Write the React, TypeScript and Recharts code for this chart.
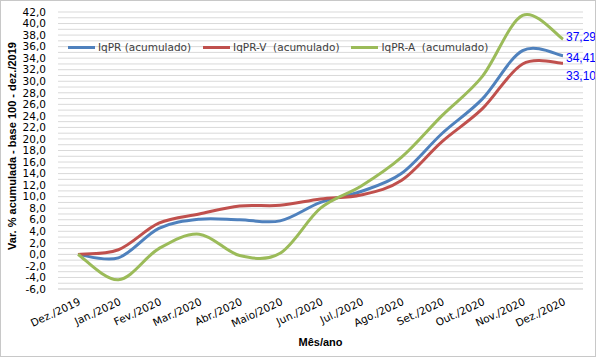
import React from 'react';
import { LineChart, Line, XAxis, YAxis, CartesianGrid } from 'recharts';

const MONTHS = [
  'Dez./2019', 'Jan./2020', 'Fev./2020', 'Mar./2020', 'Abr./2020', 'Maio/2020', 'Jun./2020',
  'Jul./2020', 'Ago./2020', 'Set./2020', 'Out./2020', 'Nov./2020', 'Dez./2020',
];
const IQPR = [0, -0.6, 4.5, 6.1, 6.0, 5.8, 9.0, 10.9, 14.0, 20.9, 26.9, 35.3, 34.41];
const IQPR_V = [0, 0.8, 5.4, 7.0, 8.4, 8.5, 9.6, 10.3, 12.8, 19.5, 25.2, 33.0, 33.1];
const IQPR_A = [0, -4.4, 1.0, 3.5, -0.2, 0.2, 8.0, 11.8, 16.8, 24.0, 30.8, 41.4, 37.29];

const Y_TICKS = Array.from({ length: 49 }, (_, i) => i - 6);

const SERIES = [
  { key: 'iqpr', name: 'IqPR (acumulado)', color: '#4f81bd', labelDy: 2 },
  { key: 'iqprV', name: 'IqPR-V  (acumulado)', color: '#c0504d', labelDy: 13 },
  { key: 'iqprA', name: 'IqPR-A  (acumulado)', color: '#9bbb59', labelDy: -2 },
];

const data = MONTHS.map((m, i) => ({ month: m, iqpr: IQPR[i], iqprV: IQPR_V[i], iqprA: IQPR_A[i] }));

const FONT = '"DejaVu Sans", sans-serif';
const FONT2 = '"Liberation Sans", Arial, sans-serif';

// excel-like smoothed line (bezier through the points)
const excelCurve = (context: any) => {
  let pts: number[][] = [];
  return {
    areaStart() {},
    areaEnd() {},
    lineStart() { pts = []; },
    point(x: number, y: number) { pts.push([+x, +y]); },
    lineEnd() {
      if (!pts.length) return;
      context.moveTo(pts[0][0], pts[0][1]);
      for (let i = 0; i < pts.length - 1; i++) {
        const p0 = pts[i - 1] || pts[i];
        const p1 = pts[i];
        const p2 = pts[i + 1];
        const p3 = pts[i + 2] || pts[i + 1];
        context.bezierCurveTo(
          p1[0] + (p2[0] - p0[0]) / 6, p1[1] + (p2[1] - p0[1]) / 6,
          p2[0] - (p3[0] - p1[0]) / 6, p2[1] - (p3[1] - p1[1]) / 6,
          p2[0], p2[1],
        );
      }
    },
  };
};

const fmt = (v: number) => v.toFixed(2).replace('.', ',');

const XTick = (props: any) => {
  const { x, y, payload } = props;
  return (
    <text x={x} y={y} transform={`rotate(-25 ${x} ${y})`} textAnchor="end" dy={8} fontSize={10.5} fill="#000" fontFamily={FONT}>
      {payload.value}
    </text>
  );
};

const YTitle = () => (
  <text x={15} y={145} transform="rotate(-90 15 145)" textAnchor="middle" fontSize={11} fontWeight="bold" fill="#000" fontFamily={FONT2}>
    Var. % acumulada - base 100 - dez./2019
  </text>
);

export default function App() {
  return (
    <div style={{ position: 'absolute', left: 0, top: 0, width: 596, height: 357, boxSizing: 'border-box', border: '1px solid #c8c8c8', background: '#fff' }}>
      <LineChart width={594} height={355} data={data} margin={{ top: 11, right: 12, bottom: 0, left: 0 }}>
        <CartesianGrid vertical={false} stroke="#d9d9d9" strokeWidth={1} />
        <XAxis
          dataKey="month"
          interval={0}
          padding={{ left: 20, right: 20 }}
          axisLine={{ stroke: '#d9d9d9' }}
          tickLine={false}
          tick={<XTick />}
          height={67}
          label={{ value: 'Mês/ano', position: 'insideBottom', offset: 10, fontSize: 11, fontWeight: 'bold', fill: '#000', fontFamily: FONT2 }}
        />
        <YAxis
          domain={[-6, 42]}
          ticks={Y_TICKS}
          interval={0}
          width={57}
          axisLine={false}
          tickLine={false}
          tickFormatter={(v: number) => (v % 2 === 0 ? v.toFixed(1).replace('.', ',') : '')}
          tick={{ fontSize: 10.5, fill: '#000', fontFamily: FONT, dx: -4 }}
          label={<YTitle />}
        />
        {SERIES.map((s) => (
          <Line
            key={s.key}
            dataKey={s.key}
            name={s.name}
            stroke={s.color}
            strokeWidth={3}
            dot={false}
            type={excelCurve as any}
            isAnimationActive={false}
            label={(p: any) =>
              p.index === MONTHS.length - 1 ? (
                <text key={s.key} x={p.x + 3} y={p.y + s.labelDy} dy={4} fontSize={12} fill="#0000ff" fontFamily={FONT2}>
                  {fmt(p.value)}
                </text>
              ) : (
                <g key={p.index} />
              )
            }
          />
        ))}
      </LineChart>
      <div style={{ position: 'absolute', top: 40, left: 67, display: 'flex', fontFamily: FONT, fontSize: 10.5, color: '#404040', lineHeight: '13px' }}>
        {SERIES.map((s) => (
          <div key={s.key} style={{ display: 'flex', alignItems: 'center', marginRight: 12 }}>
            <div style={{ width: 27, height: 3, background: s.color, marginRight: 3 }} />
            <span style={{ whiteSpace: 'pre' }}>{s.name}</span>
          </div>
        ))}
      </div>
    </div>
  );
}
